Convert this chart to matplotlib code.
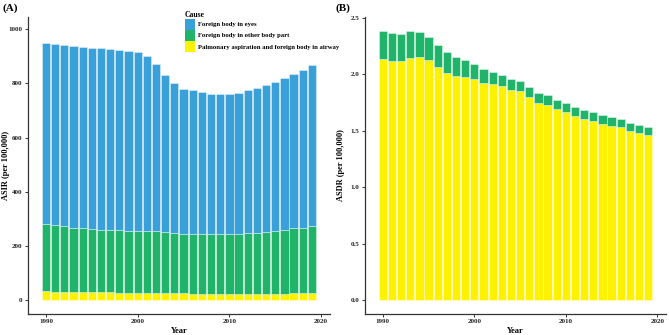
import matplotlib.pyplot as plt
import numpy as np

plt.rcParams['font.family'] = ['Liberation Serif', 'DejaVu Serif']
plt.rcParams['font.weight'] = 'bold'

years = list(range(1990, 2020))

# (A) ASIR per 100,000 -- stacked by cause
asir_airway = [33, 32, 31, 31, 30, 30, 29, 29, 28, 28, 28, 27, 27, 26, 26,
               26, 25, 25, 25, 24, 24, 24, 24, 24, 24, 24, 25, 26, 26, 27]
asir_other_top = [282, 278, 273, 268, 266, 263, 261, 260, 258, 257, 256, 255, 254, 251, 249,
                  246, 246, 246, 246, 246, 246, 246, 248, 250, 251, 254, 258, 265, 267, 273]
asir_total = [948, 946, 943, 939, 935, 932, 930, 926, 922, 919, 916, 902, 871, 832, 800,
              780, 774, 768, 761, 760, 760, 764, 774, 783, 796, 806, 820, 835, 850, 868]

# (B) ASDR per 100,000
asdr_airway = [2.133, 2.115, 2.121, 2.148, 2.151, 2.124, 2.068, 2.012, 1.985, 1.973,
               1.956, 1.923, 1.911, 1.893, 1.864, 1.855, 1.796, 1.751, 1.731, 1.692,
               1.663, 1.630, 1.609, 1.586, 1.565, 1.547, 1.533, 1.503, 1.485, 1.467]
asdr_total = [2.388, 2.367, 2.361, 2.382, 2.373, 2.328, 2.263, 2.195, 2.154, 2.127,
              2.095, 2.044, 2.018, 1.997, 1.956, 1.944, 1.885, 1.837, 1.814, 1.775,
              1.746, 1.713, 1.689, 1.663, 1.642, 1.627, 1.607, 1.574, 1.556, 1.538]

causes = ['Foreign body in eyes', 'Foreign body in other body part',
          'Palmonary aspiration and foreign body in airway']
colors = ['#3aa0d9', '#20b46b', '#fff200']

a_air = np.array(asir_airway)
a_oth = np.array(asir_other_top) - a_air
a_eye = np.array(asir_total) - np.array(asir_other_top)
d_air = np.array(asdr_airway)
d_oth = np.array(asdr_total) - d_air

fig = plt.figure(figsize=(6.69, 3.35), dpi=100)
axA = fig.add_axes([0.042, 0.064, 0.451, 0.886])
axB = fig.add_axes([0.5456, 0.063, 0.450, 0.887])

edge = dict(width=0.9, edgecolor=(1, 1, 1, 0.55), linewidth=0.5)

# stacked bars, eyes on top
axA.bar(years, a_air, color=colors[2], label=causes[2], **edge)
axA.bar(years, a_oth, bottom=a_air, color=colors[1], label=causes[1], **edge)
axA.bar(years, a_eye, bottom=a_air + a_oth, color=colors[0], label=causes[0], **edge)

axB.bar(years, d_air, color=colors[2], **edge)
axB.bar(years, d_oth, bottom=d_air, color=colors[1], **edge)

axA.set_xlim(1988.05, 2020.95)
axA.set_ylim(-49, 1046)
axA.set_yticks([0, 200, 400, 600, 800, 1000])
axB.set_xlim(1988.05, 2020.95)
axB.set_ylim(-0.12, 2.51)
axB.set_yticks([0.0, 0.5, 1.0, 1.5, 2.0, 2.5])
axB.set_yticklabels(['0.0', '0.5', '1.0', '1.5', '2.0', '2.5'])

for ax, lab, lx in [(axA, 'ASIR (per 100,000)', -0.06), (axB, 'ASDR (per 100,000)', -0.066)]:
    ax.set_xticks([1990, 2000, 2010, 2020])
    for s in ['top', 'right']:
        ax.spines[s].set_visible(False)
    for s in ['left', 'bottom']:
        ax.spines[s].set_color('#333333')
        ax.spines[s].set_linewidth(0.9)
    ax.tick_params(length=2.5, width=0.7, colors='#333333', labelsize=5, pad=1.5,
                   labelcolor='#222222')
    ax.set_xlabel('Year', fontsize=6, fontweight='bold', labelpad=2)
    ax.set_ylabel(lab, fontsize=6, fontweight='bold')
    ax.yaxis.set_label_coords(lx, 0.5)

fig.text(0.004, 0.975, '(A)', fontsize=8, fontweight='bold', va='center')
fig.text(0.502, 0.975, '(B)', fontsize=8, fontweight='bold', va='center')

h, l = axA.get_legend_handles_labels()
leg = axA.legend(h[::-1], l[::-1], title='Cause', loc='upper left',
                 bbox_to_anchor=(0.51, 1.03), frameon=False, fontsize=4.8,
                 title_fontsize=5.5, handlelength=1.55, handleheight=2.2,
                 handletextpad=0.5, labelspacing=0.0, borderaxespad=0)
leg._legend_box.align = 'left'
for p in leg.get_patches():
    p.set_edgecolor('none')

fig.savefig('out.png', dpi=100)
